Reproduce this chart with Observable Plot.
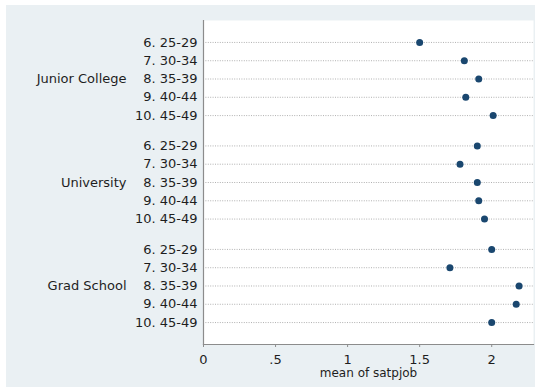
<!DOCTYPE html>
<html><head><meta charset="utf-8">
<script src="https://cdn.jsdelivr.net/npm/d3@7"></script>
<script src="https://cdn.jsdelivr.net/npm/@observablehq/plot@0.6"></script>
<style>
html,body{margin:0;padding:0;background:#fff;}
#chart{position:absolute;left:6px;top:5px;width:529px;height:382px;background:#eaf0f3;}
#chart svg{display:block;}
</style></head><body><div id="chart"></div>
<script>
const groups = ["Junior College", "University", "Grad School"];
const ageLabels = ["6. 25-29", "7. 30-34", "8. 35-39", "9. 40-44", "10. 45-49"];
const juniorCollege = [1.50, 1.81, 1.91, 1.82, 2.01];
const university = [1.90, 1.78, 1.90, 1.91, 1.95];
const gradSchool = [2.00, 1.71, 2.19, 2.17, 2.00];
const xTicks = [0, 0.5, 1, 1.5, 2];
const xTickLabels = ["0", ".5", "1", "1.5", "2"];
const xTitle = "mean of satpjob";

const GROUP_STEP = 5.66;
const series = [juniorCollege, university, gradSchool];
const rows = [];
series.forEach((vals, g) => vals.forEach((v, i) => rows.push({
  group: groups[g], age: ageLabels[i], value: v, pos: g * GROUP_STEP + i
})));
const posLabel = new Map(rows.map(r => [r.pos, r.age]));
const xLabel = new Map(xTicks.map((t, i) => [t, xTickLabels[i]]));
const groupRows = groups.map((g, k) => ({group: g, pos: k * GROUP_STEP + 2}));

const chart = Plot.plot({
  width: 529,
  height: 382,
  marginLeft: 197,
  marginRight: 2,
  marginTop: 15,
  marginBottom: 43,
  style: {fontFamily: "DejaVu Sans, sans-serif", fontSize: "13px", color: "#1e1e1e", background: "transparent"},
  x: {domain: [0, 2.29]},
  y: {domain: [-1.2, 2 * GROUP_STEP + 4 + 1.2], reverse: true},
  marks: [
    Plot.frame({fill: "white", stroke: "none"}),
    Plot.ruleY(rows, {y: "pos", stroke: "#a8a8a8", strokeWidth: 0.9, strokeDasharray: "1,1.4"}),
    Plot.frame({anchor: "left", stroke: "#8c8c8c", strokeWidth: 1.2}),
    Plot.frame({anchor: "bottom", stroke: "#8c8c8c", strokeWidth: 1.2}),
    Plot.dot(rows, {x: "value", y: "pos", r: 3.5, fill: "#1a476f", stroke: "none"}),
    Plot.axisY(rows.map(r => r.pos), {tickSize: 0, tickPadding: 6, tickFormat: d => posLabel.get(d), label: null, fill: "#1e1e1e"}),
    Plot.axisX(xTicks, {tickSize: 3, tickPadding: 7, tickFormat: d => xLabel.get(d), label: null, stroke: "#8c8c8c", fill: "#1e1e1e"}),
    Plot.text(groupRows, {y: "pos", text: "group", frameAnchor: "left", dx: -77, textAnchor: "end", fill: "#1e1e1e"}),
    Plot.text([xTitle], {text: d => d, frameAnchor: "bottom", dy: 29, lineAnchor: "middle", fontSize: 12, fill: "#1e1e1e"})
  ]
});
document.getElementById("chart").appendChild(chart);
</script>
</body></html>
